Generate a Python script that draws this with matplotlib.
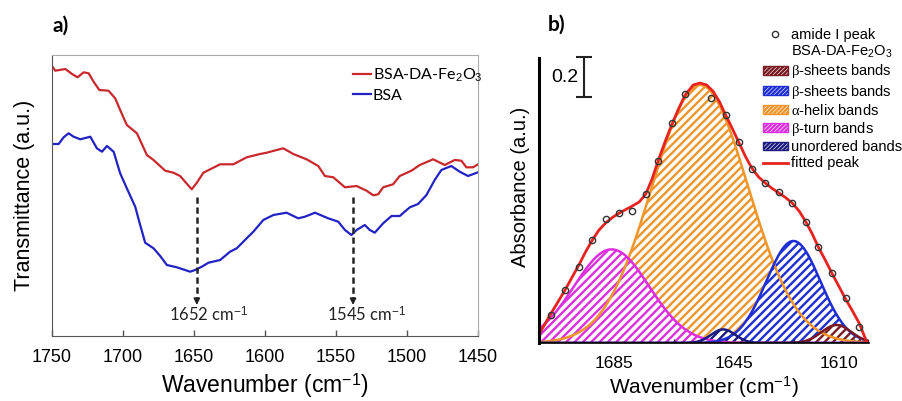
import numpy as np
import matplotlib
matplotlib.use('Agg')
import matplotlib.pyplot as plt
from matplotlib.patches import Patch
from matplotlib.lines import Line2D

# ---------------- Panel a) FTIR transmittance ----------------
wn_red = [1750.0, 1747.7, 1740.6, 1735.9, 1732.0, 1727.7, 1724.2, 1720.7, 1716.7, 1710.2,
          1705.5, 1702.0, 1697.3, 1690.2, 1683.2, 1678.5, 1670.3, 1664.5, 1659.8, 1651.6,
          1648.0, 1643.4, 1631.6, 1622.3, 1612.9, 1603.5, 1598.8, 1591.8, 1587.1, 1580.1,
          1570.7, 1562.5, 1557.8, 1551.9, 1543.7, 1535.5, 1528.5, 1523.8, 1520.3, 1516.8,
          1509.8, 1505.1, 1496.9, 1491.0, 1481.6, 1473.4, 1466.4, 1461.7, 1458.2, 1453.5,
          1450.0]
t_red = [2.70, 2.653, 2.67, 2.62, 2.587, 2.637, 2.627, 2.543, 2.46, 2.453,
         2.377, 2.26, 2.11, 2.027, 1.81, 1.76, 1.653, 1.633, 1.60, 1.467,
         1.533, 1.633, 1.717, 1.717, 1.787, 1.82, 1.833, 1.86, 1.877, 1.82,
         1.767, 1.70, 1.60, 1.587, 1.487, 1.50, 1.453, 1.407, 1.417, 1.487,
         1.517, 1.60, 1.653, 1.71, 1.767, 1.71, 1.76, 1.753, 1.687, 1.687,
         1.717]

wn_blue = [1750.0, 1745.3, 1741.8, 1738.3, 1734.8, 1730.1, 1723.0, 1718.4, 1714.8, 1711.3,
           1706.6, 1702.0, 1697.3, 1691.4, 1687.9, 1684.4, 1678.5, 1673.8, 1669.1, 1662.1,
           1652.7, 1649.2, 1644.5, 1639.8, 1631.6, 1624.6, 1619.9, 1612.9, 1608.2, 1601.2,
           1594.1, 1584.8, 1576.6, 1571.9, 1564.8, 1555.5, 1548.4, 1543.7, 1539.1, 1535.5,
           1529.7, 1526.2, 1522.7, 1516.8, 1510.9, 1505.1, 1498.0, 1492.2, 1486.3, 1480.5,
           1475.8, 1468.8, 1462.9, 1457.0, 1450.0]
t_blue = [1.92, 1.92, 1.987, 2.027, 1.993, 1.967, 1.993, 1.877, 1.843, 1.90,
          1.843, 1.627, 1.477, 1.293, 1.11, 0.933, 0.877, 0.80, 0.71, 0.687,
          0.643, 0.66, 0.693, 0.733, 0.76, 0.843, 0.877, 0.977, 1.043, 1.16,
          1.21, 1.233, 1.177, 1.193, 1.233, 1.177, 1.143, 1.06, 1.01, 1.06,
          1.11, 1.06, 1.033, 1.127, 1.20, 1.20, 1.287, 1.32, 1.41, 1.56,
          1.66, 1.70, 1.643, 1.60, 1.637]

xticks_a = [1750, 1700, 1650, 1600, 1550, 1500, 1450]
marker_wn = [1648, 1538]
marker_labels = ['1652 cm$^{\\mathsf{-1}}$', '1545 cm$^{\\mathsf{-1}}$']
marker_label_x = [1639.8, 1528.5]

# ---------------- Panel b) amide I deconvolution ----------------
amide_wn = [1706.0, 1701.3, 1696.7, 1692.2, 1687.8, 1683.2, 1678.9, 1674.4, 1670.2, 1665.8,
            1661.3, 1652.7, 1647.8, 1643.3, 1639.0, 1634.6, 1630.0, 1625.6, 1621.1, 1616.9,
            1612.4, 1607.8, 1603.3]
amide_abs = [0.14, 0.265, 0.38, 0.515, 0.62, 0.65, 0.66, 0.745, 0.91, 1.10,
             1.245, 1.225, 1.14, 1.005, 0.87, 0.80, 0.755, 0.70, 0.605, 0.48,
             0.35, 0.225, 0.08]

fit_wn = [1709.9, 1708.0, 1706.0, 1703.7, 1701.3, 1699.0, 1696.7, 1694.5, 1692.2, 1690.0,
          1687.8, 1685.5, 1683.2, 1681.0, 1678.9, 1676.6, 1674.4, 1672.3, 1670.2, 1668.0,
          1665.8, 1663.5, 1661.3, 1658.6, 1656.3, 1654.1, 1651.9, 1649.8, 1647.8, 1645.5,
          1643.3, 1641.1, 1639.0, 1636.8, 1634.6, 1632.3, 1630.0, 1627.8, 1625.6, 1623.3,
          1621.1, 1619.0, 1616.9, 1614.6, 1612.4, 1610.1, 1607.8, 1605.5, 1603.3, 1600.8]
fit_abs = [0.048, 0.095, 0.148, 0.205, 0.265, 0.328, 0.39, 0.455, 0.515, 0.565,
           0.60, 0.628, 0.65, 0.668, 0.685, 0.705, 0.745, 0.82, 0.915, 1.005,
           1.09, 1.17, 1.24, 1.29, 1.30, 1.29, 1.257, 1.205, 1.14, 1.07,
           1.0, 0.93, 0.873, 0.83, 0.80, 0.773, 0.75, 0.727, 0.70, 0.66,
           0.607, 0.548, 0.48, 0.415, 0.35, 0.285, 0.22, 0.16, 0.10, 0.007]

# Gaussian band parameters (drawing order)
band_labels = ['$\\mathrm{\\alpha}$-helix bands', '$\\mathrm{\\beta}$-turn bands',
               '$\\mathrm{\\beta}$-sheets bands', '$\\mathrm{\\beta}$-sheets bands',
               'unordered bands']
band_center = [1656.3, 1685.8, 1625.2, 1610.8, 1648.6]
band_height = [1.29, 0.468, 0.51, 0.09, 0.068]
band_sigma = [16.0, 12.5, 9.0, 5.0, 4.0]
band_color = ['#f0952a', '#dd2ee0', '#1f2ed4', '#7a1a22', '#1b1b80']
legend_order = [3, 2, 0, 1, 4]
xticks_b = [1685, 1645, 1610]
xminor_b = [1705, 1685, 1665, 1645, 1625, 1605]

# ---------------- style ----------------
plt.rcParams['font.family'] = ['Liberation Sans', 'DejaVu Sans']
plt.rcParams['mathtext.fontset'] = 'custom'
plt.rcParams['mathtext.rm'] = 'Liberation Serif'
plt.rcParams['mathtext.it'] = 'Liberation Serif:italic'
plt.rcParams['mathtext.sf'] = 'Liberation Sans'
plt.rcParams['hatch.linewidth'] = 1.7

fig = plt.figure(figsize=(9.03, 4.01), dpi=100)
axA = fig.add_axes([52 / 903, 1 - 336 / 401, 426 / 903, 281 / 401])
axB = fig.add_axes([539 / 903, 1 - 343 / 401, 330 / 903, 285 / 401])

# ---- panel a
axA.plot(wn_red, t_red, color='#c9282d', lw=1.6, label='BSA-DA-Fe$_\\mathsf{2}$O$_\\mathsf{3}$')
axA.plot(wn_blue, t_blue, color='#2323c4', lw=1.6, label='BSA')
axA.set_xlim(1750, 1450)
axA.set_ylim(0, 2.81)
axA.set_xticks(xticks_a)
axA.set_yticks([])
axA.tick_params(axis='x', direction='in', length=4, width=1, color='#555555',
                labelsize=13, pad=9)
for s in ['left', 'bottom']:
    axA.spines[s].set_color('#555555')
for s in ['top', 'right']:
    axA.spines[s].set_color('#aaaaaa')
axA.set_xlabel('Wavenumber (cm$^{\\mathsf{-1}}$)', fontsize=16.5, labelpad=4)
axA.set_ylabel('Transmittance (a.u.)', fontsize=15.5, labelpad=12)

for x0, lab, xl in zip(marker_wn, marker_labels, marker_label_x):
    axA.plot([x0, x0], [1.393, 0.37], ls=(0, (2.5, 1.5)), color='#222222', lw=1.8)
    axA.annotate('', xy=(x0, 0.31), xytext=(x0, 0.38),
                 arrowprops=dict(arrowstyle='-|>', color='#222222', lw=1.2,
                                 mutation_scale=9, shrinkA=0, shrinkB=0))
    axA.text(xl, 0.21, lab, ha='center', va='center', fontsize=12,
             family=['Lato', 'DejaVu Sans'], color='#222222')

axA.legend(loc='upper left', bbox_to_anchor=((353 - 52) / 426, (336 - 67) / 281),
           frameon=False, borderpad=0, borderaxespad=0, handlelength=1.1,
           handletextpad=0.15, labelspacing=0.25,
           prop={'family': ['Lato', 'DejaVu Sans'], 'size': 11.5})

fig.text(53 / 903, 1 - 26 / 401, 'a)', fontsize=15, fontweight='bold',
         family=['Lato', 'DejaVu Sans'], va='center', ha='left')
fig.text(548 / 903, 1 - 25 / 401, 'b)', fontsize=15, fontweight='bold',
         family=['Lato', 'DejaVu Sans'], va='center', ha='left')

# ---- panel b
xg = np.linspace(1600, 1710, 600)
for c, h, s, col in zip(band_center, band_height, band_sigma, band_color):
    yg = h * np.exp(-(xg - c) ** 2 / (2 * s ** 2))
    axB.fill_between(xg, 0, yg, facecolor='white', edgecolor=col, hatch='////', lw=0)
    axB.plot(xg, yg, color=col, lw=1.8)

axB.plot(fit_wn, fit_abs, color='#e8231f', lw=2.0)
axB.plot(amide_wn, amide_abs, 'o', mfc='none', mec='#333333', ms=4.5, mew=1.0)

axB.set_xlim(1710, 1600)
axB.set_ylim(0, 1.425)
axB.set_yticks([])
axB.set_xticks(xticks_b)
axB.set_xticks(xminor_b, minor=True)
axB.tick_params(axis='x', which='major', length=0, labelsize=12.5, pad=9)
axB.tick_params(axis='x', which='minor', direction='in', length=3, width=1, color='#222222')
axB.spines['top'].set_visible(False)
axB.spines['right'].set_visible(False)
axB.spines['left'].set_linewidth(2.2)
axB.spines['bottom'].set_linewidth(1.2)
axB.set_xlabel('Wavenumber (cm$^{\\mathsf{-1}}$)', fontsize=15, labelpad=3)
axB.set_ylabel('Absorbance (a.u.)', fontsize=14.5)
axB.yaxis.set_label_coords(-0.028, 0.547)

# scale bar
axB.errorbar([1695], [1.33], yerr=[0.1], color='#222222', lw=1.5, capsize=6,
             capthick=1.5, clip_on=False)
axB.text(1697, 1.325, '0.2', ha='right', va='center', fontsize=14)

handles = [Line2D([], [], marker='o', ls='none', mfc='none', mec='#333333', ms=4.5, mew=1.0),
           Line2D([], [], ls='none')]
labels = ['amide I peak', 'BSA-DA-Fe$_\\mathsf{2}$O$_\\mathsf{3}$']
for i in legend_order:
    handles.append(Patch(facecolor='white', edgecolor=band_color[i], hatch='////////', lw=1.0))
    labels.append(band_labels[i])
handles.append(Line2D([], [], color='#e8231f', lw=2.0))
labels.append('fitted peak')
fig.legend(handles, labels, loc='upper left', bbox_to_anchor=(763 / 903, 1 - 28 / 401),
           bbox_transform=fig.transFigure, frameon=False, borderpad=0, borderaxespad=0,
           handlelength=1.7, handleheight=0.55, handletextpad=0.25, labelspacing=0.15,
           prop={'size': 10.5})

fig.savefig('out.png', dpi=100)
